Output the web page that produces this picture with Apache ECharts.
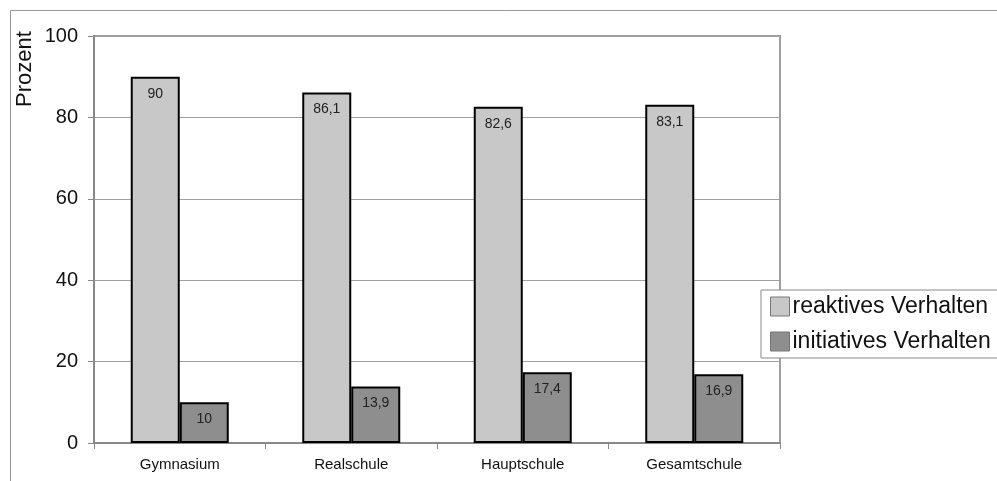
<!DOCTYPE html>
<html>
<head>
<meta charset="utf-8">
<script src="https://cdn.jsdelivr.net/npm/echarts@6/dist/echarts.min.js"></script>
<style>
  html, body { margin: 0; padding: 0; background: #fff; }
  #chart { width: 997px; height: 481px; }
</style>
</head>
<body>
<div id="chart"></div>
<script>
// Schultypen und Anteile (Prozent)
const categories = ['Gymnasium', 'Realschule', 'Hauptschule', 'Gesamtschule'];
const reaktiv = [90, 86.1, 82.6, 83.1];
const initiativ = [10, 13.9, 17.4, 16.9];
const seriesNames = ['reaktives Verhalten', 'initiatives Verhalten'];
const yTicks = [0, 20, 40, 60, 80, 100];

const chart = echarts.init(document.getElementById('chart'), null, { renderer: 'canvas' });

const FONT = 'Liberation Sans, Arial, sans-serif';
const fmt = v => String(v).replace('.', ',');

const labelStyle = {
  show: true,
  position: 'insideTop',
  distance: 10,
  fontFamily: FONT,
  fontSize: 14,
  color: '#222',
  formatter: p => fmt(p.value)
};

chart.setOption({
  animation: false,
  backgroundColor: '#fff',
  grid: {
    left: 94, top: 36, right: 217, bottom: 38,
    show: true, borderColor: '#a0a0a0', borderWidth: 2, backgroundColor: 'transparent'
  },
  graphic: [
    {
      type: 'rect',
      shape: { x: 10.5, y: 10.5, width: 1000, height: 500 },
      style: { fill: 'none', stroke: '#999', lineWidth: 1 },
      z: -10
    },
    {
      type: 'text',
      x: 25, y: 69,
      rotation: Math.PI / 2,
      style: {
        text: 'Prozent',
        fontFamily: FONT,
        fontSize: 22,
        fill: '#111',
        align: 'center',
        verticalAlign: 'middle'
      }
    }
  ],
  legend: {
    orient: 'vertical',
    left: 761, top: 290,
    data: seriesNames,
    itemWidth: 19, itemHeight: 19, itemGap: 12,
    padding: [5, 10, 5, 9],
    borderColor: '#888', borderWidth: 1,
    backgroundColor: '#fff',
    icon: 'rect',
    itemStyle: { borderColor: '#777', borderWidth: 1 },
    textStyle: { fontFamily: FONT, fontSize: 23, lineHeight: 23, color: '#111', padding: [0, 0, 0, -2] }
  },
  xAxis: {
    type: 'category',
    data: categories,
    boundaryGap: true,
    axisLine: { lineStyle: { color: '#888', width: 2 } },
    axisTick: { show: true, alignWithLabel: false, length: 6, lineStyle: { color: '#888' } },
    axisLabel: { fontFamily: FONT, fontSize: 15, color: '#111', margin: 14 }
  },
  yAxis: {
    type: 'value',
    min: yTicks[0], max: yTicks[yTicks.length - 1], interval: 20,
    axisLine: { show: true, lineStyle: { color: '#888', width: 2 } },
    axisTick: { show: true, length: 6, lineStyle: { color: '#888' } },
    axisLabel: { fontFamily: FONT, fontSize: 20, color: '#111', margin: 16 },
    splitLine: { show: true, lineStyle: { color: '#a0a0a0', width: 1 } }
  },
  series: [
    {
      name: seriesNames[0],
      type: 'bar',
      data: reaktiv,
      barWidth: 49,
      barGap: '0%',
      itemStyle: { color: '#c8c8c8', borderColor: '#000', borderWidth: 2 },
      label: labelStyle
    },
    {
      name: seriesNames[1],
      type: 'bar',
      data: initiativ,
      barWidth: 49,
      barGap: '0%',
      itemStyle: { color: '#8e8e8e', borderColor: '#000', borderWidth: 2 },
      label: labelStyle
    }
  ]
});
</script>
</body>
</html>
